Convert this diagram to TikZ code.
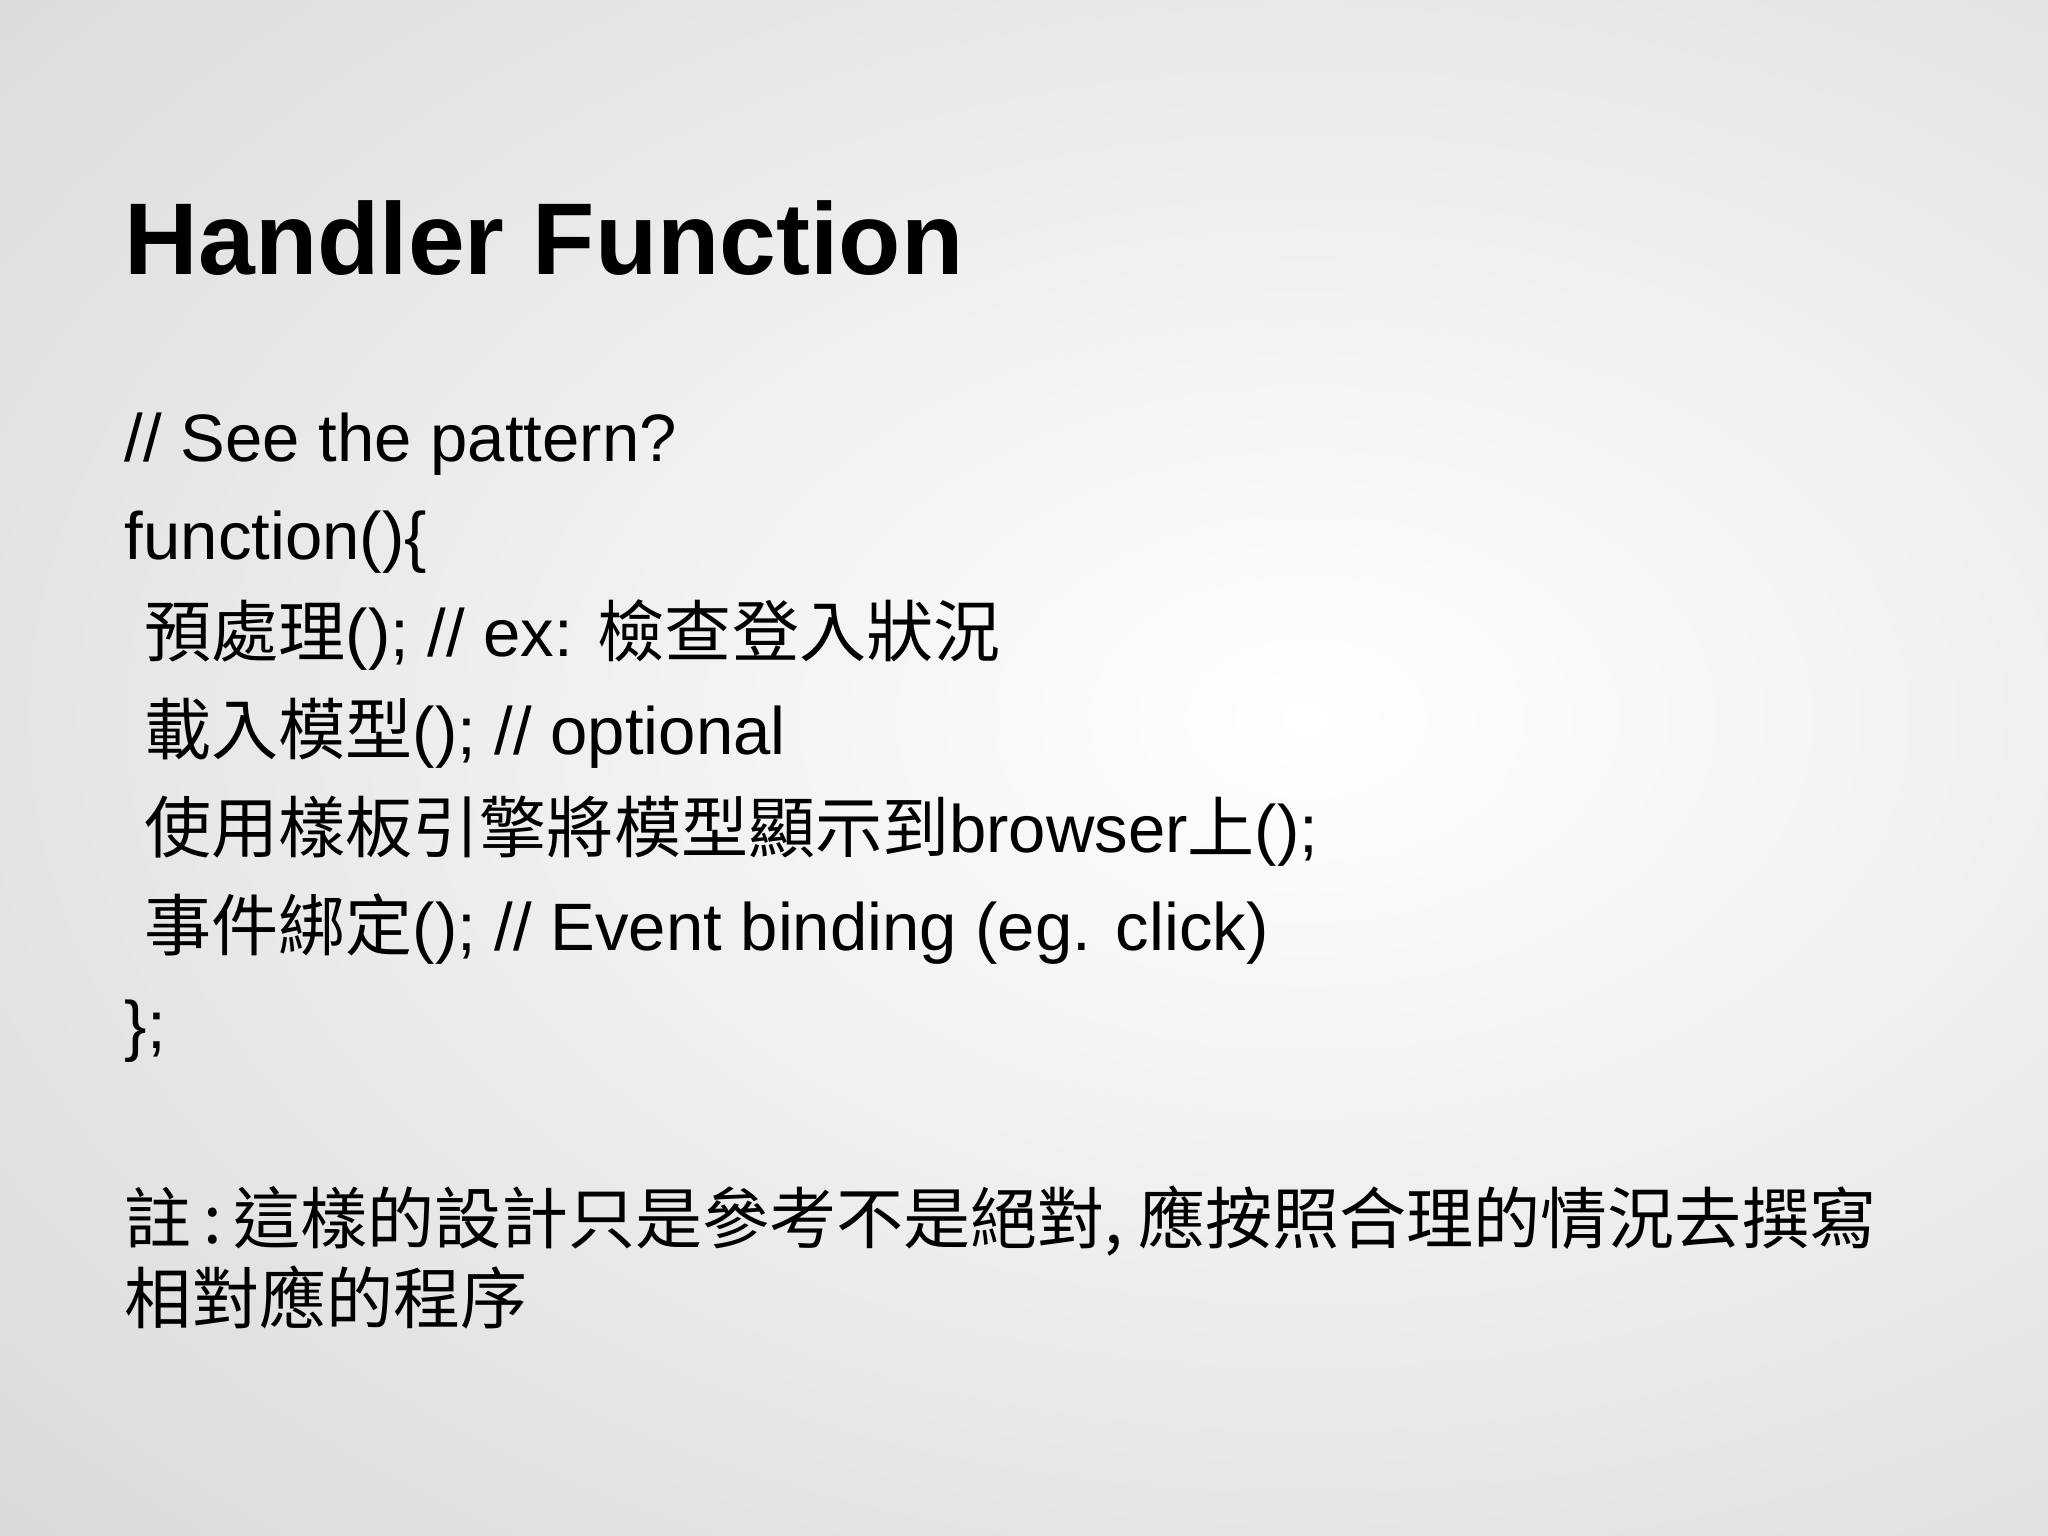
\documentclass[tikz,border=0pt]{standalone}
\usepackage{fontspec}
\setmainfont{Liberation Sans}
\newfontfamily\cjk{Noto Sans CJK TC}
\begin{document}
\begin{tikzpicture}[x=0.01cm,y=-0.01cm,
  body/.style={anchor=base west,inner sep=0pt,font=\fontsize{14.6pt}{17pt}\selectfont},
  ttl/.style={anchor=base west,inner sep=0pt,font=\fontsize{22.2pt}{26pt}\selectfont\bfseries}]
\useasboundingbox (0,0) rectangle (1568,1176);
\shade[inner color=white,outer color=black!17] (-600,-500) rectangle (2600,1600);
\node[ttl] (t) at (95,210) {Handler Function};
\node[body] (l1) at (95,353) {// See the pattern?};
\node[body] (l2) at (95,428) {function()\{};
\node[body] (l3) at (110,503) {{\cjk 預處理}(); // ex: {\cjk 檢查登入狀況}};
\node[body] (l4) at (110,578) {{\cjk 載入模型}(); // optional};
\node[body] (l5) at (110,653) {{\cjk 使用樣板引擎將模型顯示到}browser{\cjk 上}();};
\node[body] (l6) at (110,728) {{\cjk 事件綁定}(); // Event binding (eg. click)};
\node[body] (l7) at (95,803) {\};};
\node[body] (n1) at (95,952) {\cjk 註\,:\,這樣的設計只是參考不是絕對,\ 應按照合理的情況去撰寫};
\node[body] (n2) at (95,1013) {\cjk 相對應的程序};
\end{tikzpicture}
\end{document}
